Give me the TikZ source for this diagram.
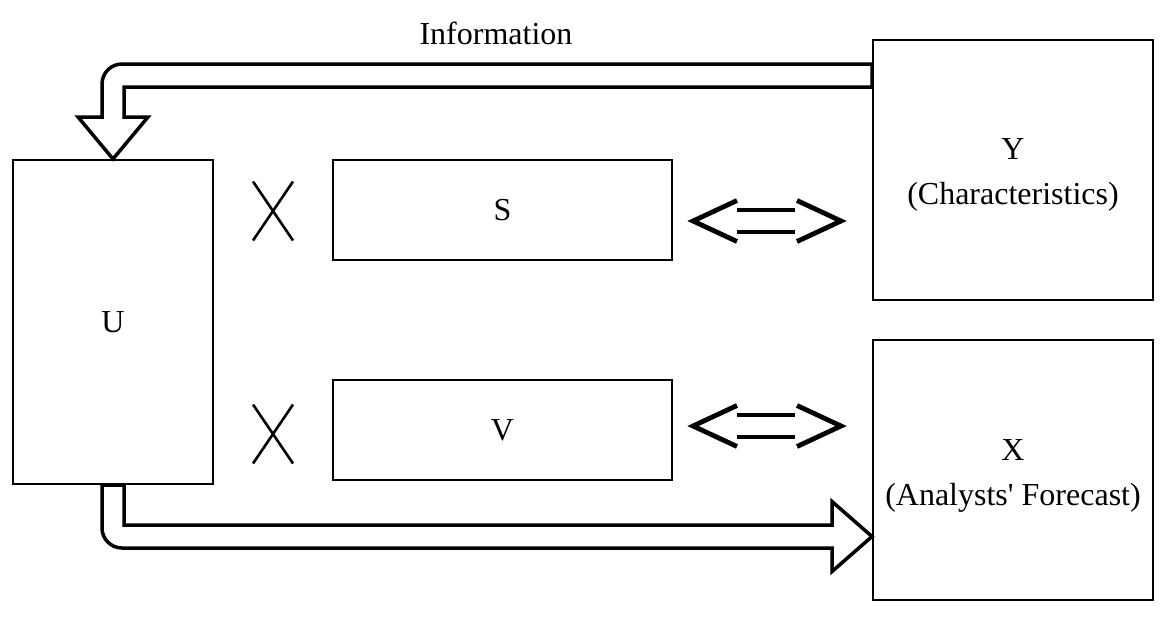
\documentclass[tikz,border=0pt]{standalone}
\usepackage{fontspec}
\setmainfont{Liberation Serif}
\usepackage{tikz}
\usetikzlibrary{calc}

\begin{document}
\begin{tikzpicture}[
  x=1pt, y=-1pt,
  font=\fontsize{32}{45}\selectfont,
  varbox/.style={
    draw=black,
    line width=2pt,
    inner sep=0pt,
    align=center
  },
  fatarrow/.style={
    draw=black,
    line width=3.5pt,
    line join=miter
  },
  eqvarrow/.pic={
    \draw[line width=4.8pt] (-30,-20.5) -- (-74,0) -- (-30,20.5);
    \draw[line width=4.8pt] (30,-20.5) -- (74,0) -- (30,20.5);
    \draw[line width=3.6pt] (-30,-11) -- (28,-11);
    \draw[line width=3.6pt] (-30,11) -- (28,11);
  },
  crossmark/.pic={
    \draw[line width=2.6pt] (-20,-29.5) -- (20,29.5);
    \draw[line width=2.6pt] (20,-29.5) -- (-20,29.5);
  }
]
  \useasboundingbox (0,0) rectangle (1174,622);

  % Left block and the two middle blocks
  \node[varbox, minimum width=200, minimum height=324] (U) at (113,322) {U};
  \node[varbox, minimum width=339, minimum height=100] (S) at (502.5,210) {\raisebox{-2pt}{S}};
  \node[varbox, minimum width=339, minimum height=100] (V) at (502.5,430) {\raisebox{-2pt}{V}};

  % Right blocks
  \node[varbox, minimum width=280, minimum height=260] (Y) at (1013,170) {};
  \node[align=center, inner sep=0pt] (Ytext) at ($(Y.center)+(0,5)$) {Y\\(Characteristics)};
  \node[varbox, minimum width=280, minimum height=260] (X) at (1013,470) {};
  \node[align=center, inner sep=0pt] (Xtext) at ($(X.center)+(0,6)$) {X\\(Analysts\textquotesingle\ Forecast)};

  \node (info) at (496,33) {Information};

  % Crossed-out links and equivalences
  \pic at (273,211) {crossmark};
  \pic at (273,434) {crossmark};
  \pic at (767,221) {eqvarrow};
  \pic at (767,426) {eqvarrow};

  % Information flow from Y back to U
  \coordinate (infoStart) at ($(Y.north west)+(0,36.5)$);
  \coordinate (infoBend) at (U.north |- infoStart);
  \draw[fatarrow]
    ($(infoStart)+(0,-11.5)$) -- ($(infoBend)+(9,-11.5)$)
    arc[start angle=270, end angle=180, radius=20]
    -- ($(U.north)+(-11,-42)$) -- ($(U.north)+(-35,-42)$) -- (U.north)
    -- ($(U.north)+(35,-42)$) -- ($(U.north)+(11,-42)$)
    -- ($(infoBend)+(11,11.5)$) -- ($(infoStart)+(0,11.5)$) -- cycle;

  % Forecast flow from U to X
  \coordinate (fcEnd) at ($(X.west)+(0,66.5)$);
  \coordinate (fcBend) at (U.south |- fcEnd);
  \draw[fatarrow]
    ($(U.south)+(-11,0)$) -- ($(fcBend)+(-11,-8.5)$)
    arc[start angle=180, end angle=90, radius=20]
    -- ($(fcEnd)+(-40,11.5)$) -- ($(fcEnd)+(-40,35)$) -- (fcEnd)
    -- ($(fcEnd)+(-40,-35)$) -- ($(fcEnd)+(-40,-11.5)$)
    -- ($(fcBend)+(11,-11.5)$) -- ($(U.south)+(11,0)$) -- cycle;

\end{tikzpicture}
\end{document}
